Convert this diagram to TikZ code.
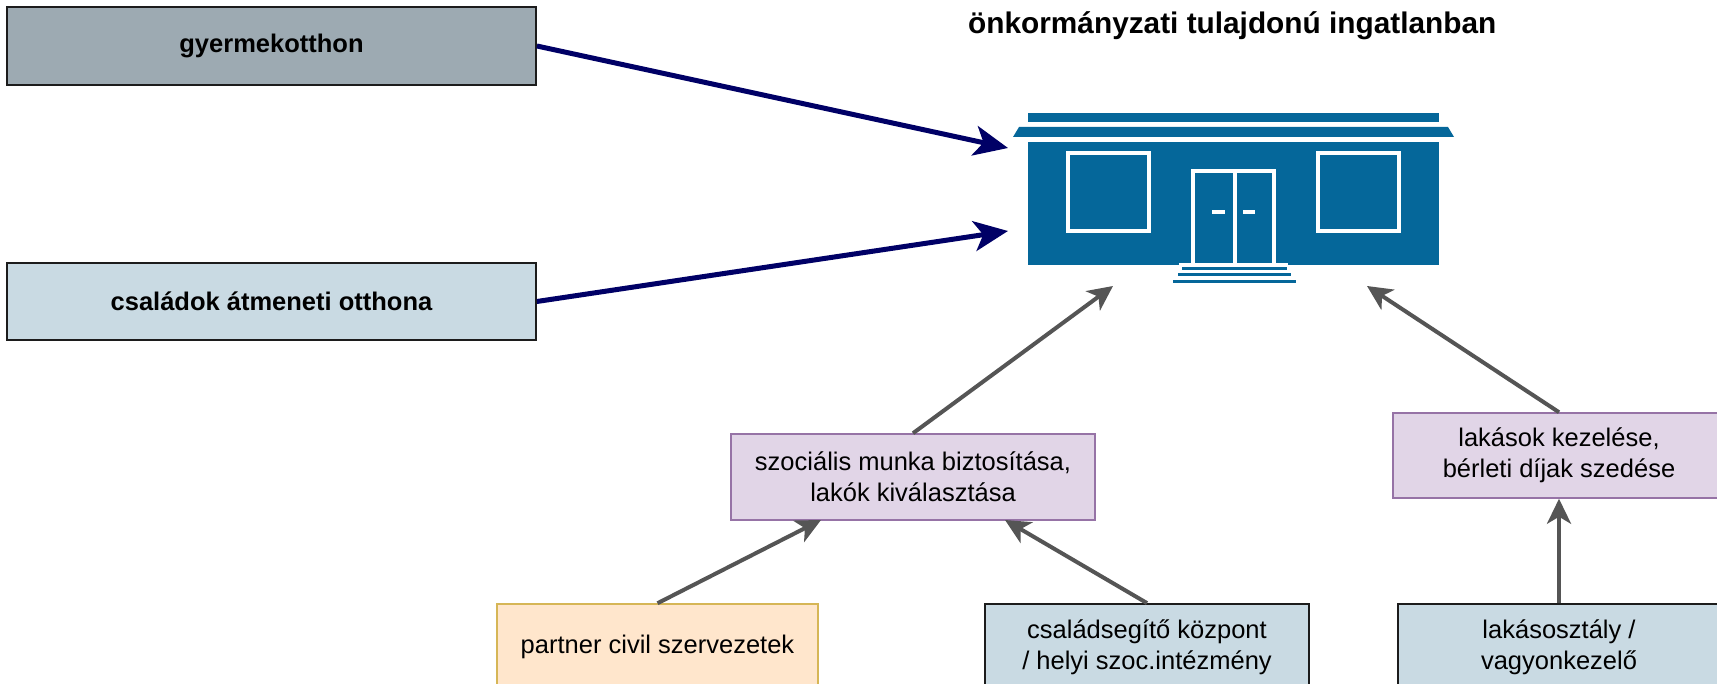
\documentclass[tikz,border=0pt]{standalone}
\usepackage{fontspec}
\setmainfont{Liberation Sans}
\usetikzlibrary{arrows.meta}
\definecolor{gyfill}{HTML}{9DAAB2}
\definecolor{ltblue}{HTML}{C9DAE3}
\definecolor{purpfill}{HTML}{E1D5E7}
\definecolor{purpline}{HTML}{9673A6}
\definecolor{orfill}{HTML}{FFE6CC}
\definecolor{orline}{HTML}{D6B656}
\definecolor{bldg}{HTML}{05679A}
\definecolor{navyc}{HTML}{000066}
\definecolor{grayarr}{HTML}{555555}
\definecolor{boxline}{HTML}{1C1C1C}
\begin{document}
\begin{tikzpicture}[x=1pt,y=-1pt,
  box/.style={rectangle, inner sep=0pt, align=center, font=\fontsize{25.5}{31}\selectfont},
  darkbox/.style={box, draw=boxline, line width=1.8pt, fill=ltblue},
  graybox/.style={box, draw=boxline, line width=1.8pt, fill=gyfill},
  purpbox/.style={box, draw=purpline, line width=1.5pt, fill=purpfill},
  orbox/.style={box, draw=orline, line width=1.5pt, fill=orfill},
  navyarrow/.style={draw=navyc, line width=5pt, -{Stealth[length=34pt,width=30pt,inset=9pt]}},
  grayarrow/.style={draw=grayarr, line width=4pt, -{Stealth[length=25pt,width=24pt,inset=7pt]}},
  bldline/.style={draw=bldg, line width=2.5pt},
  whiteline/.style={draw=white, line width=4pt}
]
\useasboundingbox (0,0) rectangle (1717,684);

% title
\node[anchor=base west, inner sep=0pt, font=\bfseries\fontsize{29.8}{35}\selectfont] (title) at (968,34) {önkormányzati tulajdonú ingatlanban};

% building
\fill[bldg] (1028,113) rectangle (1439,122);
\fill[bldg] (1013,137) -- (1019,127) -- (1448,127) -- (1454,137) -- cycle;
\fill[bldg] (1028,142) rectangle (1439,265);
\draw[whiteline] (1068,153) rectangle (1149,231);
\draw[whiteline] (1318,153) rectangle (1399,231);
\draw[whiteline] (1193,264) -- (1193,171) -- (1274,171) -- (1274,264);
\draw[whiteline] (1234.5,171) -- (1234.5,264);
\fill[white] (1212,210.5) rectangle (1225,214.5);
\fill[white] (1243,210.5) rectangle (1255,214.5);
\draw[draw=white, line width=3pt] (1179,264.5) -- (1288,264.5);
\draw[bldline] (1182,268.5) -- (1287,268.5);
\draw[bldline] (1178,274.5) -- (1291,274.5);
\draw[bldline] (1173,281.5) -- (1296,281.5);

% boxes
\node[graybox, minimum width=529pt, minimum height=78pt, font=\bfseries\fontsize{25.5}{31}\selectfont] (gy) at (271.5,46) {gyermekotthon};
\node[darkbox, minimum width=529pt, minimum height=77pt, font=\bfseries\fontsize{25.5}{31}\selectfont] (cs) at (271.5,301.5) {családok átmeneti otthona};
\node[purpbox, minimum width=364pt, minimum height=86pt] (szoc) at (913,477) {szociális munka biztosítása,\\lakók kiválasztása};
\node[purpbox, minimum width=332pt, minimum height=85pt] (lak) at (1559,455.5) {lakások kezelése,\\bérleti díjak szedése};
\node[orbox, minimum width=321pt, minimum height=86pt] (partner) at (657.5,647) {partner civil szervezetek};
\node[darkbox, minimum width=324pt, minimum height=86pt] (csal) at (1147,647) {családsegítő központ\\/ helyi szoc.intézmény};
\node[darkbox, minimum width=322pt, minimum height=86pt] (lako) at (1559,647) {lakásosztály /\\vagyonkezelő};

% arrow targets
\coordinate (t1) at (1008,148);
\coordinate (t2) at (1008,231);
\coordinate (t3) at (1113,286);
\coordinate (t6) at (1367,286);
\coordinate (t4) at (1005,520);
\coordinate (t5) at (821,520);

\draw[navyarrow] (gy.east) -- (t1);
\draw[navyarrow] (cs.east) -- (t2);
\draw[grayarrow] (szoc.north) -- (t3);
\draw[grayarrow] (lak.north) -- (t6);
\draw[grayarrow] (partner.north) -- (t5);
\draw[grayarrow] (csal.north) -- (t4);
\draw[grayarrow] (lako.north) -- (lak.south);
\end{tikzpicture}
\end{document}
